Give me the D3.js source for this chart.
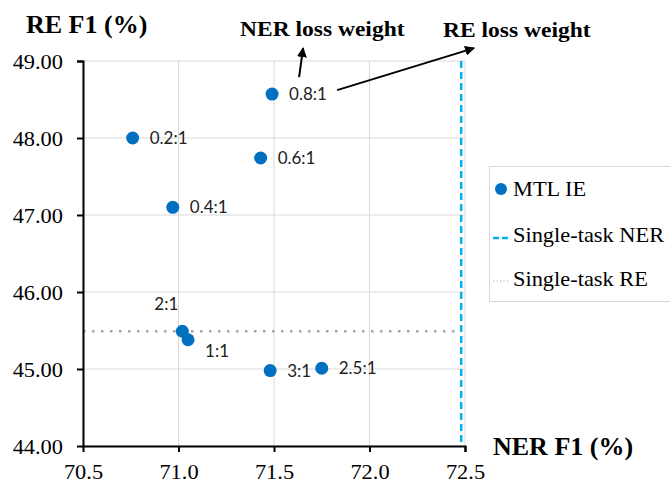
<!DOCTYPE html>
<html>
<head>
<meta charset="utf-8">
<script src="https://cdn.jsdelivr.net/npm/d3@7"></script>
<style>
  body { margin: 0; background: #fff; }
  svg { display: block; }
</style>
</head>
<body>
<div id="chart"></div>
<script>
// MTL IE points: loss weight ratio, NER F1, RE F1
const ratios = ['0.8:1', '0.2:1', '0.6:1', '0.4:1', '2:1', '1:1', '3:1', '2.5:1'];
const nerF1 = [71.49, 70.76, 71.43, 70.97, 71.02, 71.05, 71.48, 71.75];
const reF1 = [48.57, 48.00, 47.74, 47.10, 45.49, 45.38, 44.98, 45.01];

// single-task baselines
const singleNER = 72.48;
const singleRE = 45.49;

const xTicks = [70.5, 71.0, 71.5, 72.0, 72.5];
const yTicks = [44, 45, 46, 47, 48, 49];
const legendLabels = ['MTL IE', 'Single-task NER', 'Single-task RE'];

const W = 670, H = 483;
const margin = {top: 61, right: 205, bottom: 37, left: 83};

const svg = d3.select('#chart').append('svg')
  .attr('width', W)
  .attr('height', H);

const x = d3.scaleLinear().domain([70.5, 72.5]).range([margin.left, W - margin.right]);
const y = d3.scaleLinear().domain([44, 49]).range([H - margin.bottom, margin.top]);

const serif = 'Liberation Serif';
const sans = 'Lato';
const blue = '#0070C0';
const stretch = 1.12; // the original picture is a bit wide

// text placed at (tx, ty) and stretched sideways around its anchor
function wideText(sel, tx, ty, str, size, bold) {
  return sel.append('text')
    .attr('transform', `translate(${tx},${ty}) scale(${stretch},1)`)
    .attr('font-family', serif)
    .attr('font-size', size)
    .attr('font-weight', bold ? 'bold' : 'normal')
    .attr('fill', '#000')
    .text(str);
}

// grid
const grid = svg.append('g').attr('class', 'grid');
grid.selectAll('.hgrid').data(yTicks).enter().append('line')
  .attr('x1', x(70.5)).attr('x2', x(72.5))
  .attr('y1', d => y(d)).attr('y2', d => y(d))
  .style('stroke', '#d9d9d9').style('stroke-width', 1);
grid.selectAll('.vgrid').data(xTicks).enter().append('line')
  .attr('x1', d => x(d)).attr('x2', d => x(d))
  .attr('y1', y(44)).attr('y2', y(49))
  .style('stroke', '#d9d9d9').style('stroke-width', 1);

// baselines
svg.append('line')
  .attr('x1', x(70.5)).attr('x2', x(singleNER))
  .attr('y1', y(singleRE)).attr('y2', y(singleRE))
  .style('stroke', '#a6a6a6').style('stroke-width', 2.5)
  .style('stroke-dasharray', '2.5,6.5');

svg.append('line')
  .attr('x1', x(singleNER)).attr('x2', x(singleNER))
  .attr('y1', y(49)).attr('y2', y(44))
  .style('stroke', '#00b0f0').style('stroke-width', 2.5)
  .style('stroke-dasharray', '7,4');

// axes
const xAxis = svg.append('g')
  .attr('transform', `translate(0,${y(44)})`)
  .call(d3.axisBottom(x).tickValues(xTicks).tickFormat(d3.format('.1f')).tickSize(6).tickPadding(13));
const yAxis = svg.append('g')
  .attr('transform', `translate(${x(70.5)},0)`)
  .call(d3.axisLeft(y).tickValues(yTicks).tickFormat(d3.format('.2f')).tickSize(6).tickPadding(20));

[xAxis, yAxis].forEach(a => {
  a.attr('font-family', serif).attr('font-size', 20);
  a.select('.domain').style('stroke', '#000').style('stroke-width', 2);
  a.selectAll('.tick line').style('stroke', '#000').style('stroke-width', 2);
  a.selectAll('.tick text').style('fill', '#000');
});
xAxis.selectAll('.tick text').attr('transform', `scale(${stretch},1)`);
yAxis.selectAll('.tick text')
  .attr('dy', '0.36em')
  .attr('x', -20 / stretch)
  .attr('transform', `scale(${stretch},1)`);
xAxis.selectAll('.tick').filter(d => d === 70.5).select('line').remove();
yAxis.selectAll('.tick').filter(d => d === 44).select('line').remove();

// points
const pts = ratios.map((r, i) => ({r, x: nerF1[i], y: reF1[i]}));

svg.append('g').selectAll('circle')
  .data(pts).enter().append('circle')
    .attr('cx', d => x(d.x))
    .attr('cy', d => y(d.y))
    .attr('r', 6.5)
    .attr('fill', blue);

// label offsets relative to each point
const labelOffset = {'2:1': [-28, -21], '1:1': [17, 17]};
svg.append('g').selectAll('text')
  .data(pts).enter().append('text')
    .attr('x', d => x(d.x) + (labelOffset[d.r] ? labelOffset[d.r][0] : 17))
    .attr('y', d => y(d.y) + (labelOffset[d.r] ? labelOffset[d.r][1] : 6))
    .text(d => d.r)
    .attr('font-family', sans)
    .attr('font-size', 17)
    .attr('fill', '#222');

// axis titles
svg.append('text').attr('x', 26).attr('y', 33).text('RE F1 (%)')
  .attr('font-family', serif).attr('font-weight', 'bold').attr('font-size', 26);
svg.append('text').attr('x', 493).attr('y', 455).text('NER F1 (%)')
  .attr('font-family', serif).attr('font-weight', 'bold').attr('font-size', 26);

// annotations
svg.append('defs').append('marker')
  .attr('id', 'arrow')
  .attr('viewBox', '0 0 10 10')
  .attr('refX', 9).attr('refY', 5)
  .attr('markerWidth', 5).attr('markerHeight', 5)
  .attr('orient', 'auto')
  .append('path').attr('d', 'M0,0 L10,5 L0,10 z').attr('fill', '#000');

wideText(svg, 240, 36, 'NER loss weight', 21, true);
wideText(svg, 443, 37, 'RE loss weight', 21, true);

const topPt = pts[0];
svg.append('line')
  .attr('x1', x(topPt.x) + 27).attr('y1', y(topPt.y) - 17)
  .attr('x2', x(topPt.x) + 31).attr('y2', y(topPt.y) - 46)
  .style('stroke', '#000').style('stroke-width', 2)
  .attr('marker-end', 'url(#arrow)');
svg.append('line')
  .attr('x1', x(topPt.x) + 65).attr('y1', y(topPt.y) - 4)
  .attr('x2', x(topPt.x) + 202).attr('y2', y(topPt.y) - 46)
  .style('stroke', '#000').style('stroke-width', 2)
  .attr('marker-end', 'url(#arrow)');

// legend
const lg = svg.append('g');
lg.append('rect')
  .attr('x', 489.5).attr('y', 166.5)
  .attr('width', 200).attr('height', 135)
  .style('fill', '#fff').style('stroke', '#d9d9d9').style('stroke-width', 1);

const ly = [189, 235, 279];
lg.append('circle').attr('cx', 501).attr('cy', ly[0]).attr('r', 6).attr('fill', blue);
lg.append('line').attr('x1', 493).attr('x2', 510).attr('y1', ly[1] + 3).attr('y2', ly[1] + 3)
  .style('stroke', '#00b0f0').style('stroke-width', 2.5).style('stroke-dasharray', '6,3');
lg.append('line').attr('x1', 493).attr('x2', 510).attr('y1', ly[2] + 2).attr('y2', ly[2] + 2)
  .style('stroke', '#a6a6a6').style('stroke-width', 1.2).style('stroke-dasharray', '1.2,2.3');

legendLabels.forEach((d, i) => wideText(lg, 513, ly[i] + 7, d, 20, false));
</script>
</body>
</html>
